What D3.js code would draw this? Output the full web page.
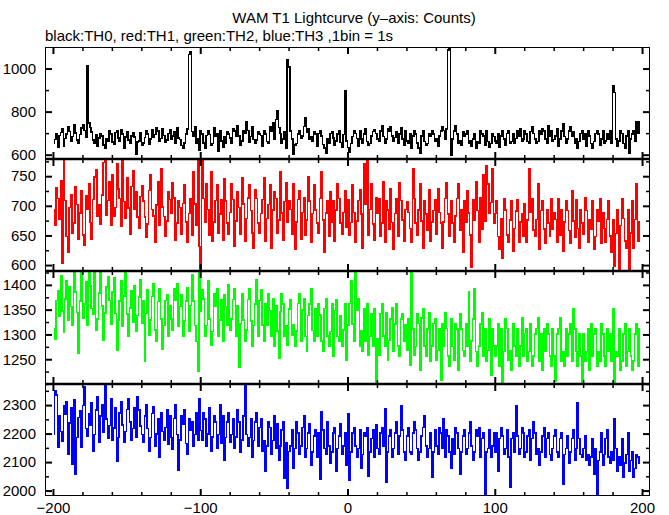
<!DOCTYPE html>
<html><head><meta charset="utf-8">
<script src="https://cdn.jsdelivr.net/npm/d3@7"></script>
<style>
body{margin:0;background:#fff;}
svg{display:block;}
text{font-family:"Liberation Sans",Arial,Helvetica,sans-serif;fill:#000;}
</style></head>
<body>
<svg id="chart" width="669" height="515"></svg>
<script>
const title = "WAM T1 Lightcurve (y\u2013axis: Counts)";
const subtitle = "black:TH0, red:TH1, green:TH2, blue:TH3 ,1bin = 1s";
const binStart = -200;
const xTickMajor = [-200, -100, 0, 100, 200];
const xTickMinor = [-180,-160,-140,-120,-80,-60,-40,-20,20,40,60,80,120,140,160,180];
const xTickLabels = ["\u2212200", "\u2212100", "0", "100", "200"];

const th0 = [
652,671,698,633,688,704,719,641,676,695,728,707,662,684,739,701,668,655,693,724,
741,712,679,1012,748,727,706,669,651,694,638,677,699,686,646,631,672,663,709,697,
658,649,703,712,677,664,716,697,628,681,708,669,652,687,702,683,604,659,664,701,
642,655,679,711,697,648,673,714,681,694,727,709,662,676,721,688,657,668,699,716,
674,686,707,651,723,677,671,643,632,655,697,719,1066,1078,708,686,731,651,672,621,
709,697,654,629,688,712,694,642,653,724,686,698,614,711,663,633,685,652,708,697,
677,655,721,709,684,733,687,643,664,711,698,752,713,657,685,729,671,652,669,708,
696,688,641,711,697,662,654,729,707,748,673,763,804,726,699,653,672,708,631,1042,
1006,709,674,603,644,652,697,713,676,687,731,772,703,719,671,684,661,708,697,641,
699,712,686,648,631,606,673,654,698,708,677,643,664,697,711,656,634,693,896,663,
633,612,653,684,711,698,676,641,709,673,652,697,722,661,644,651,687,708,718,699,
672,663,711,733,684,652,673,719,709,731,686,662,679,708,651,697,723,674,643,712,
663,651,698,631,686,711,697,654,632,608,687,709,662,643,653,698,684,711,697,661,
673,641,686,709,731,712,674,719,1086,1092,598,672,709,733,697,651,663,642,708,687,
697,711,652,663,641,674,698,629,661,653,709,697,686,642,711,662,633,651,698,684,
663,652,697,633,687,711,673,642,698,709,651,662,697,652,676,713,686,722,663,674,
709,697,661,652,708,731,698,673,651,662,711,697,721,709,674,653,733,686,712,661,
671,686,722,641,673,709,742,684,651,672,711,731,686,708,652,674,632,661,698,713,
674,697,641,711,686,652,629,661,698,712,697,643,672,709,651,663,698,674,711,651,
922,888,672,641,663,709,698,652,631,687,711,607,673,697,712,661,754,698,752];

const th1 = [
693,667,731,712,678,742,603,779,709,648,621,697,718,654,671,733,702,643,688,726,
651,633,717,694,738,672,644,711,749,761,683,702,669,718,773,781,684,709,741,668,
752,683,697,771,728,712,666,782,707,679,748,696,652,733,759,694,724,681,662,716,
734,708,681,647,669,726,752,694,683,638,701,741,667,763,698,682,649,674,723,711,
688,739,713,642,671,709,697,652,704,736,673,639,687,712,651,758,703,668,781,631,
591,779,712,672,738,694,651,757,641,673,709,736,653,686,711,642,746,708,671,652,
689,737,711,631,674,724,697,652,748,703,641,679,713,736,692,654,629,727,712,671,
653,687,711,747,641,679,702,736,629,693,723,712,654,676,758,688,642,707,739,672,
709,694,652,738,627,673,711,726,643,689,713,651,676,749,708,639,687,736,693,671,
654,712,757,676,621,688,709,649,723,672,708,641,693,737,712,671,652,689,726,663,
711,651,672,736,689,638,674,709,727,686,629,771,702,781,651,694,738,669,642,713,
688,712,649,671,741,638,709,693,661,728,672,627,687,712,648,739,709,676,641,694,
707,689,662,639,762,712,671,651,693,738,674,629,708,686,659,727,641,673,692,711,
652,728,689,671,628,673,712,739,686,648,709,671,638,683,712,737,659,694,622,708,
673,726,688,651,596,711,676,741,692,639,713,661,752,674,768,737,688,706,763,671,
687,709,648,627,679,611,712,693,651,638,676,708,624,662,691,711,639,673,687,648,
704,638,676,763,689,712,659,648,677,737,626,692,708,661,637,693,671,649,712,661,
689,677,638,712,651,694,624,673,709,692,658,637,726,674,647,711,662,629,693,671,
652,713,692,638,677,661,709,627,648,693,674,712,636,689,662,638,677,708,649,622,
676,598,653,694,589,667,712,679,641,628,693,591,654,708,629,677,737,641,673];

const th2 = [
1312,1291,1368,1389,1336,1418,1347,1305,1372,1409,1328,1397,1356,1319,1429,1386,1344,1262,1367,1431,
1333,1361,1407,1318,1432,1398,1352,1341,1426,1309,1331,1384,1433,1357,1289,1343,1396,1417,1368,1321,
1386,1414,1342,1268,1329,1367,1409,1316,1378,1427,1341,1297,1353,1389,1324,1398,1307,1338,1376,1411,
1322,1368,1246,1342,1391,1298,1329,1377,1402,1309,1287,1366,1393,1331,1271,1318,1368,1381,1296,1357,
1331,1308,1392,1369,1403,1317,1356,1381,1296,1327,1367,1394,1306,1358,1421,1367,1318,1286,1226,1429,
1346,1391,1372,1297,1318,1409,1331,1278,1306,1383,1357,1392,1297,1329,1371,1286,1381,1356,1318,1401,
1309,1331,1371,1392,1296,1358,1233,1321,1382,1329,1287,1309,1371,1392,1327,1276,1318,1361,1411,1296,
1368,1391,1319,1287,1361,1318,1382,1348,1296,1372,1277,1358,1307,1252,1346,1383,1361,1296,1317,1278,
1351,1371,1298,1319,1276,1307,1362,1382,1287,1349,1373,1296,1267,1338,1361,1392,1308,1286,1352,1297,
1362,1339,1287,1266,1352,1373,1297,1276,1306,1361,1257,1348,1371,1296,1286,1338,1277,1309,1362,1248,
1319,1362,1409,1321,1287,1431,1349,1372,1276,1308,1266,1352,1287,1362,1258,1296,1341,1277,1352,1199,
1291,1258,1342,1361,1297,1276,1343,1247,1288,1331,1353,1266,1321,1362,1277,1256,1331,1342,1287,1319,
1268,1331,1237,1431,1311,1258,1276,1342,1322,1227,1333,1352,1277,1256,1311,1343,1246,1277,1322,1331,
1247,1268,1312,1208,1322,1277,1343,1312,1256,1236,1331,1276,1247,1322,1311,1227,1342,1311,1268,1256,
1322,1277,1387,1246,1287,1331,1393,1266,1236,1277,1321,1343,1256,1312,1246,1268,1332,1218,1311,1277,
1256,1277,1322,1236,1311,1203,1266,1332,1312,1247,1267,1227,1322,1277,1256,1311,1236,1277,1333,1256,
1302,1311,1246,1266,1322,1236,1256,1301,1312,1333,1246,1301,1227,1312,1266,1322,1301,1256,1236,1311,
1256,1206,1301,1312,1333,1246,1266,1236,1311,1256,1301,1322,1246,1352,1311,1266,1236,1301,1256,1203,
1301,1246,1266,1312,1227,1322,1256,1301,1311,1236,1266,1246,1322,1301,1256,1236,1311,1266,1301,1246,
1352,1198,1266,1256,1311,1227,1246,1301,1322,1236,1266,1311,1256,1227,1246,1301,1322,1236,1311];

const th3 = [
2198,2352,2336,2151,2262,2208,2174,2297,2268,2311,2127,2238,2289,2091,2318,2058,2186,2257,2279,2153,
2298,2366,2217,2189,2271,2228,2309,2138,2197,2282,2331,2168,2262,2301,2206,2372,2251,2184,2229,2322,
2176,2219,2291,2102,2186,2273,2312,2231,2168,2207,2284,2322,2241,2177,2218,2291,2187,2331,2283,2226,
2197,2168,2262,2302,2218,2138,2186,2271,2293,2157,2198,2251,2118,2273,2208,2176,2221,2282,2164,2261,
2187,2146,2253,2301,2196,2071,2177,2262,2233,2282,2166,2127,2251,2213,2241,2156,2197,2272,2176,2322,
2211,2176,2272,2251,2156,2198,2291,2137,2188,2262,2241,2148,2197,2301,2166,2262,2108,2187,2241,2272,
2168,2196,2252,2147,2188,2282,2241,2136,2177,2262,2371,2197,2156,2187,2251,2117,2176,2241,2272,2157,
2221,2252,2137,2176,2068,2156,2241,2222,2127,2176,2262,2147,2233,2106,2156,2212,2242,2042,2168,2008,
2137,2157,2212,2078,2147,2242,2202,2126,2157,2221,2262,2117,2147,2202,2233,2088,2136,2192,2212,2117,
2202,2041,2278,2212,2147,2127,2242,2156,2097,2136,2202,2222,2068,2147,2192,2233,2126,2156,2202,2088,
2268,2038,2136,2202,2222,2157,2117,2147,2212,2078,2126,2202,2192,2222,2052,2136,2182,2212,2117,2232,
2147,2126,2202,2222,2157,2287,2028,2136,2192,2212,2117,2147,2202,2242,2126,2192,2298,2212,2136,2107,
2192,2222,2136,2126,2202,2242,2212,2147,2106,2136,2192,2222,2262,2157,2117,2147,2202,2048,2136,2212,
2157,2126,2222,2202,2147,2252,2117,2212,2192,2136,2078,2182,2126,2222,2202,2147,2058,2136,2192,2212,
2126,2147,2202,2242,2157,2106,2136,2212,2192,2222,2117,2182,2202,1983,2136,2147,2212,2117,2157,2202,
2136,2202,2068,2182,2222,2192,2126,2147,2212,2117,2012,2182,2202,2136,2298,2192,2126,2147,2222,2202,
2117,2136,2192,2212,2106,2182,2242,2202,2126,2147,2088,2136,2192,2222,2117,2182,2202,2126,2106,2147,
2192,2212,2136,2117,2182,2202,2022,2126,2147,2192,2097,2136,2182,2212,2106,2147,2308,2182,2126,2117,
2147,2192,2106,2126,2088,2117,2182,2058,2147,1982,2106,2136,2202,2088,2126,2182,2212,2117,2097,2136,
2106,2252,2147,2068,2117,2088,2182,2048,2097,2126,2202,2068,2106,2136,2048,2078,2126,2117,2097];

const seriesValues = [th0, th1, th2, th3];
const seriesColors = ["#000000", "#ff0000", "#00ff00", "#0000ff"];
const yDomains = [[580, 1100], [590, 779], [1200, 1428], [1981, 2374]];
const yTickMajor = [[600, 800, 1000], [600, 650, 700, 750], [1250, 1300, 1350, 1400], [2000, 2100, 2200, 2300]];
const yTickMinorStep = [100, 25, 25, 50];

const svg = d3.select("#chart");
const left = 45, right = 650;
const panelEdges = [47, 159, 271, 384, 496];

const x = d3.scaleLinear().domain([-205.4, 205.4]).range([left, right]);

svg.append("text").attr("x", 354).attr("y", 23).attr("text-anchor", "middle")
  .style("font-size", "15px").text(title);
svg.append("text").attr("x", 45).attr("y", 41)
  .style("font-size", "15px").text(subtitle);

seriesValues.forEach((vals, k) => {
  const top = panelEdges[k], bottom = panelEdges[k + 1];
  const y = d3.scaleLinear().domain(yDomains[k]).range([bottom, top]);
  const g = svg.append("g");
  const cid = "clip" + k;
  svg.append("clipPath").attr("id", cid).append("rect")
    .attr("x", left).attr("y", top).attr("width", right - left).attr("height", bottom - top);

  const pts = vals.map((v, i) => [binStart + i + 0.5, v]);
  const line = d3.line().x(d => x(d[0])).y(d => y(d[1])).curve(d3.curveStep);
  g.append("path").attr("clip-path", `url(#${cid})`)
    .attr("d", line(pts)).attr("fill", "none")
    .attr("stroke", seriesColors[k]).attr("stroke-width", 1.5)
    .attr("shape-rendering", "crispEdges");

  g.append("rect").attr("x", left + 0.5).attr("y", top + 0.5)
    .attr("width", right - left - 1).attr("height", bottom - top - 1)
    .attr("fill", "none").attr("stroke", "#000").attr("stroke-width", 1);

  const dom = yDomains[k];
  const minorY = d3.range(Math.ceil(dom[0] / yTickMinorStep[k]) * yTickMinorStep[k], dom[1], yTickMinorStep[k])
    .filter(v => !yTickMajor[k].includes(v));

  const styleAxis = (sel, w) => { sel.select(".domain").remove(); sel.selectAll(".tick line").attr("stroke", "#000").attr("stroke-width", w); };
  const styleText = s => s.selectAll("text").style("font-size", "15px").attr("fill", "#000").style("font-family", "Liberation Sans, Arial, sans-serif");

  g.append("g").attr("transform", `translate(0,${bottom})`)
    .call(d3.axisBottom(x).tickValues(xTickMajor).tickSize(-7).tickPadding(6)
      .tickFormat((d, i) => k === 3 ? xTickLabels[i] : ""))
    .call(s => styleAxis(s, 2)).call(styleText);
  g.append("g").attr("transform", `translate(0,${bottom})`)
    .call(d3.axisBottom(x).tickValues(xTickMinor).tickSize(-4).tickFormat(""))
    .call(s => styleAxis(s, 1.5));
  g.append("g").attr("transform", `translate(0,${top})`)
    .call(d3.axisTop(x).tickValues(xTickMajor).tickSize(-7).tickFormat(""))
    .call(s => styleAxis(s, 2));
  g.append("g").attr("transform", `translate(0,${top})`)
    .call(d3.axisTop(x).tickValues(xTickMinor).tickSize(-4).tickFormat(""))
    .call(s => styleAxis(s, 1.5));

  g.append("g").attr("transform", `translate(${left},0)`)
    .call(d3.axisLeft(y).tickValues(yTickMajor[k]).tickSize(-7).tickPadding(9).tickFormat(d3.format("d")))
    .call(s => styleAxis(s, 2)).call(styleText);
  g.append("g").attr("transform", `translate(${left},0)`)
    .call(d3.axisLeft(y).tickValues(minorY).tickSize(-4).tickFormat(""))
    .call(s => styleAxis(s, 1.5));
  g.append("g").attr("transform", `translate(${right},0)`)
    .call(d3.axisRight(y).tickValues(yTickMajor[k]).tickSize(-7).tickFormat(""))
    .call(s => styleAxis(s, 2));
  g.append("g").attr("transform", `translate(${right},0)`)
    .call(d3.axisRight(y).tickValues(minorY).tickSize(-4).tickFormat(""))
    .call(s => styleAxis(s, 1.5));
});

panelEdges.slice(1, 4).forEach(e => {
  svg.append("line").attr("x1", left).attr("x2", right).attr("y1", e).attr("y2", e)
    .attr("stroke", "#000").attr("stroke-width", 2.5);
});
</script>
</body></html>
